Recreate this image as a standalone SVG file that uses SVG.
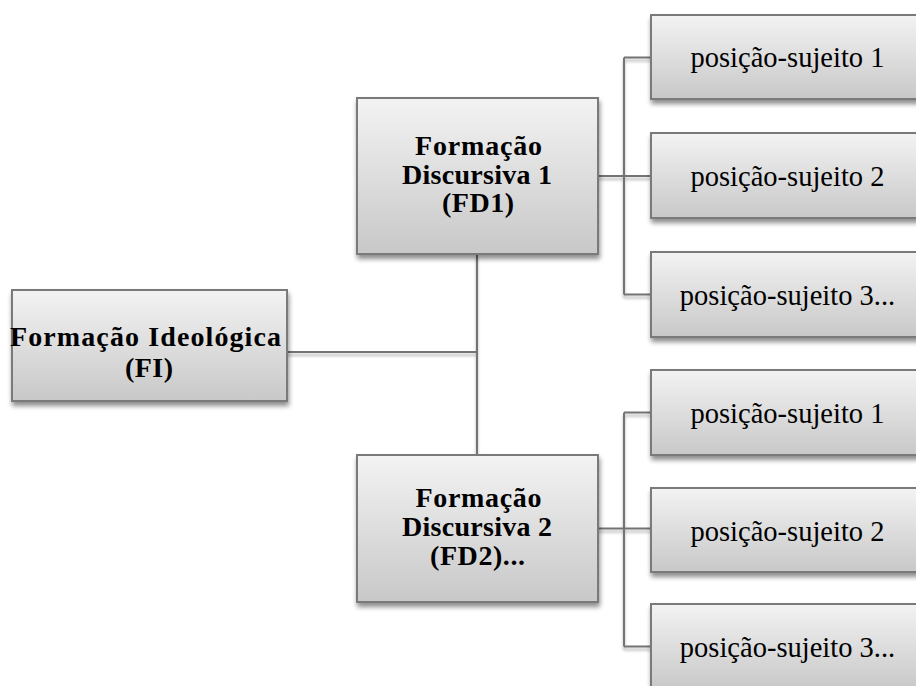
<svg xmlns="http://www.w3.org/2000/svg" width="916" height="686" viewBox="0 0 916 686">
<defs>
<linearGradient id="g" x1="0" y1="0" x2="0" y2="1">
<stop offset="0" stop-color="#f3f3f3"/>
<stop offset="1" stop-color="#c8c8c8"/>
</linearGradient>
<filter id="sh" x="-10%" y="-10%" width="125%" height="135%">
<feGaussianBlur in="SourceAlpha" stdDeviation="2.5"/>
<feOffset dx="1" dy="4" result="b"/>
<feComponentTransfer><feFuncA type="linear" slope="0.45"/></feComponentTransfer>
<feMerge><feMergeNode/><feMergeNode in="SourceGraphic"/></feMerge>
</filter>
<filter id="lsh" x="-5%" y="-50%" width="110%" height="200%">
<feGaussianBlur in="SourceAlpha" stdDeviation="1.5"/>
<feOffset dx="0" dy="3" result="b"/>
<feComponentTransfer><feFuncA type="linear" slope="0.3"/></feComponentTransfer>
<feMerge><feMergeNode/><feMergeNode in="SourceGraphic"/></feMerge>
</filter>
</defs>
<style>
.box{fill:url(#g);stroke:#7a7a7a;stroke-width:2;filter:url(#sh)}
.ln{fill:none;stroke:#737373;stroke-width:2;filter:url(#lsh)}
.b{font-family:"Liberation Serif","Times New Roman",serif;font-weight:bold;font-size:28px;fill:#000;text-anchor:middle}
.r{font-family:"Liberation Serif","Times New Roman",serif;font-size:28.5px;fill:#000;text-anchor:middle}
</style>
<rect width="916" height="686" fill="#fff"/>
<g id="connectors">
<path class="ln" d="M287 352 H477 M477 254 V455"/>
<path class="ln" d="M598 176 H651 M624 57.5 V294.5 M624 57.5 H651 M624 294.5 H651"/>
<path class="ln" d="M598 528.5 H651 M624 412.5 V646.5 M624 412.5 H651 M624 646.5 H651"/>
</g>
<g id="fi">
<rect class="box" x="12" y="290" width="275" height="111"/>
<text class="b" x="145.5" y="346" font-size="30.5" textLength="271" lengthAdjust="spacing">Formação Ideológica</text>
<text class="b" x="149" y="377" font-size="30.5" textLength="48" lengthAdjust="spacing">(FI)</text>
</g>
<g id="fd1">
<rect class="box" x="357" y="98" width="241" height="156"/>
<text class="b" x="478.5" y="155" textLength="127" lengthAdjust="spacing">Formação</text>
<text class="b" x="477" y="183.5" textLength="150" lengthAdjust="spacing">Discursiva 1</text>
<text class="b" x="478" y="212" textLength="72" lengthAdjust="spacing">(FD1)</text>
</g>
<g id="fd2">
<rect class="box" x="357" y="455" width="241" height="147"/>
<text class="b" x="478.5" y="507" textLength="126" lengthAdjust="spacing">Formação</text>
<text class="b" x="477" y="536" textLength="150" lengthAdjust="spacing">Discursiva 2</text>
<text class="b" x="477.5" y="565" textLength="95" lengthAdjust="spacing">(FD2)...</text>
</g>
<g id="ps1">
<rect class="box" x="651" y="15" width="280" height="84"/>
<text class="r" x="787.5" y="67">posição-sujeito 1</text>
</g>
<g id="ps2">
<rect class="box" x="651" y="133" width="280" height="85"/>
<text class="r" x="787.5" y="185.5">posição-sujeito 2</text>
</g>
<g id="ps3">
<rect class="box" x="651" y="252" width="280" height="85"/>
<text class="r" x="787.5" y="304.5">posição-sujeito 3...</text>
</g>
<g id="ps4">
<rect class="box" x="651" y="370" width="280" height="85"/>
<text class="r" x="787.5" y="422.5">posição-sujeito 1</text>
</g>
<g id="ps5">
<rect class="box" x="651" y="488" width="280" height="84"/>
<text class="r" x="787.5" y="540.5">posição-sujeito 2</text>
</g>
<g id="ps6">
<rect class="box" x="651" y="604" width="280" height="85"/>
<text class="r" x="787.5" y="656.5">posição-sujeito 3...</text>
</g>
</svg>
